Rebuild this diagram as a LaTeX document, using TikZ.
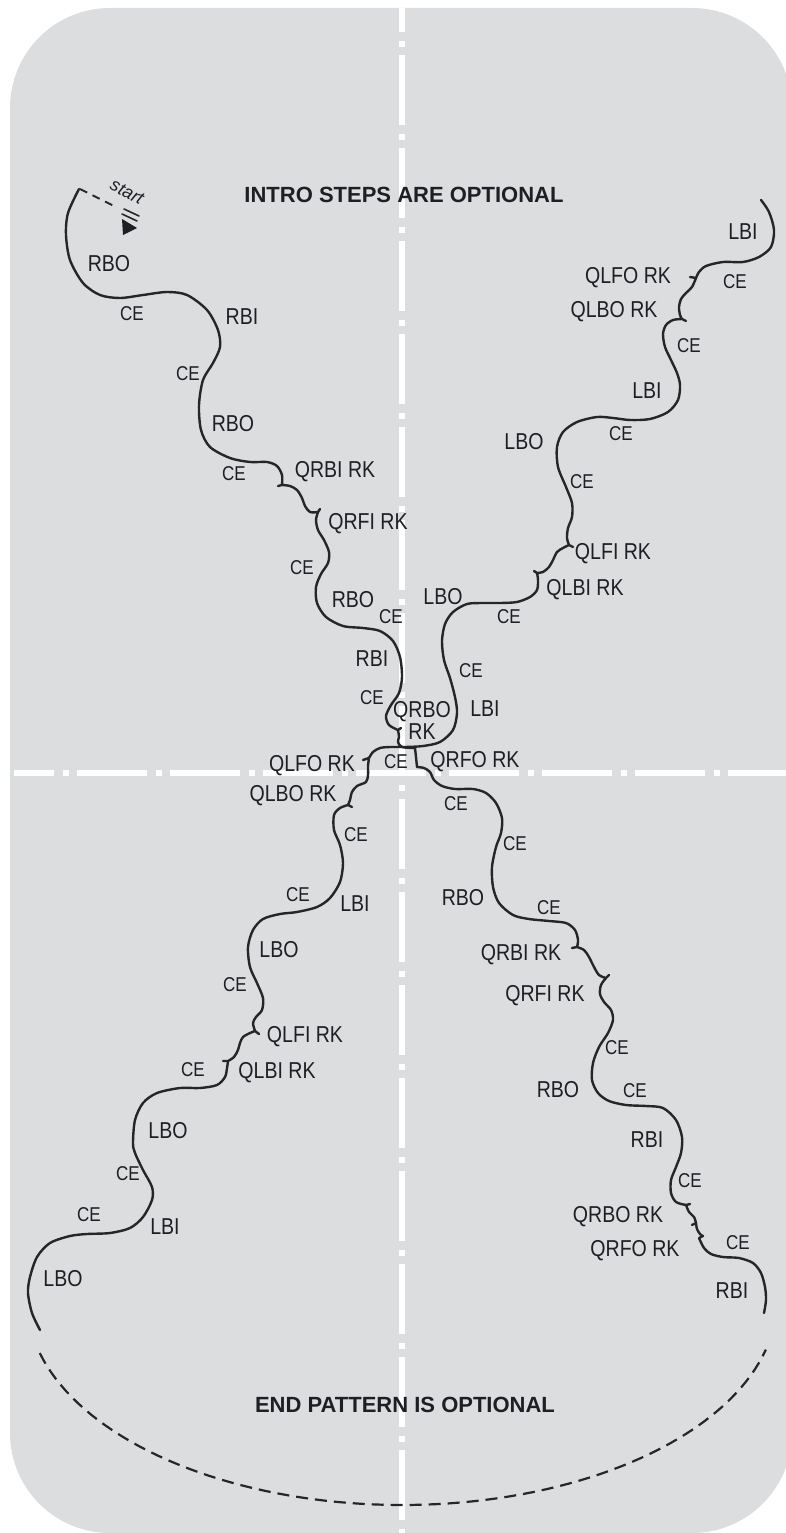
\documentclass[tikz,border=0pt]{standalone}
\usepackage{fontspec}
\setmainfont{Liberation Sans}
\newfontfamily\condfont[FakeStretch=0.85]{Liberation Sans}
\definecolor{floor}{RGB}{220,221,223}
\definecolor{ink}{RGB}{30,30,36}
\definecolor{tracegray}{RGB}{38,38,38}
\tikzset{
  lbl/.style={font=\condfont\fontsize{23}{22}\selectfont, text=ink, inner sep=0pt, text depth=0pt},
  celbl/.style={font=\condfont\fontsize{20}{22}\selectfont, text=ink, inner sep=0pt, text depth=0pt},
  heading/.style={font=\bfseries\fontsize{22}{24}\selectfont, text=ink, inner sep=0pt},
  track/.style={draw=tracegray, line width=2.4pt},
  axisline/.style={white, line width=6pt, line cap=butt, dash pattern=on 70pt off 9pt on 6pt off 8pt},
}
\begin{document}
\begin{tikzpicture}[x=1pt, y=-1pt, line join=round, line cap=round]
	%	\draw[help lines] (0,0) grid[xstep=50,ystep=50] (786,1533);
	\useasboundingbox (0,0) rectangle (786,1533);
	\fill[floor, rounded corners=100pt] (10,8) rectangle (792,1533);
	\draw[axisline, dash phase=46pt] (402,8) -- (402,1533);
	\draw[axisline, dash phase=30pt] (14,773) -- (786,773);
	% start mark
	\draw[tracegray, line width=1.8pt, line cap=butt, dash pattern=on 8pt off 6pt] (80,189) -- (116,207);
	\draw[tracegray, line width=1.6pt] (124,209) -- (139,216) (122,214) -- (137,221);
	\fill[ink] (122,219) -- (137,228) -- (123,235) -- cycle;
	\node (start) at (127,192) [rotate=-28, font=\itshape\fontsize{18}{19}\selectfont, text=ink, inner sep=0pt] {start};
	% first diagonal: upper left to lower right
	\draw[track] plot[smooth] coordinates {(79,189) (68,213) (66,235) (70,260) (83,283) (100,295) (120,298) (143,295) (167,292) (187,295) (207,310) (218,330) (220,347) (213,363) (203,380) (199,405) (201,430) (210,447) (230,458) (250,462) (267,462) (277,466) (282,475) (282,485)}
		-- (278,486) -- (282,485)
		-- plot[smooth] coordinates {(282,485) (290,486) (297,490) (302,498) (305,506) (310,512) (318,512)}
		-- (320,509) -- (318,512)
		-- plot[smooth] coordinates {(318,512) (316,520) (318,530) (324,540) (329,552) (328,563) (321,574) (316,587) (317,603) (326,617) (343,626) (363,628) (380,631) (393,641) (400,657) (402,677) (399,693) (391,705) (386,716) (389,725) (398,730)}
		-- (401,728) -- (398,730)
		-- plot[smooth] coordinates {(398,730) (399,737) (398,742) (402,747) (415,748)}
		-- plot[smooth] coordinates {(415,748) (416,757) (417,767)}
		-- plot[smooth] coordinates {(417,767) (424,768) (430,772) (434,780) (442,786) (455,789) (473,789) (486,793) (496,803) (502,818) (501,833) (496,847) (492,867) (493,887) (499,903) (513,915) (529,919) (549,921) (566,923) (575,930) (578,940) (577,947)}
		-- (572,948) -- (577,947)
		-- plot[smooth] coordinates {(577,947) (584,950) (589,957) (594,967) (599,975) (606,978)}
		-- (609,975) -- (606,978)
		-- plot[smooth] coordinates {(606,978) (601,985) (600,994) (604,1002) (611,1010) (613,1020) (608,1033) (599,1047) (593,1063) (592,1080) (598,1093) (609,1101) (626,1105) (646,1106) (663,1108) (676,1120) (682,1137) (681,1153) (676,1167) (671,1180) (671,1193) (676,1202) (686,1205)}
		-- (690,1204) -- (686,1205)
		-- plot[smooth] coordinates {(686,1205) (689,1212) (694,1217) (696,1223)}
		-- (692,1225) -- (696,1223)
		-- plot[smooth] coordinates {(696,1223) (697,1229) (700,1234) (703,1236)}
		-- (699,1238)
		-- plot[smooth] coordinates {(699,1238) (704,1248) (711,1254) (723,1257) (739,1258) (753,1263) (761,1273) (765,1287) (766,1300) (764,1313)};
	% second diagonal: upper right to lower left
	\draw[track] plot[smooth] coordinates {(761,200) (769,212) (774,230) (771,247) (759,257) (743,262) (723,262) (706,266) (699,272) (696,278)}
		-- (690,277) -- (696,278)
		-- plot[smooth] coordinates {(696,278) (692,287) (686,293) (681,299) (679,307) (680,315) (682,319)}
		-- (686,321) -- (682,319)
		-- plot[smooth] coordinates {(682,319) (673,320) (666,325) (663,334) (665,347) (671,360) (677,373) (680,385) (678,400) (668,412) (650,419) (630,420) (613,418) (597,417) (577,422) (563,432) (557,447) (558,467) (566,487) (572,503) (572,517) (568,528) (567,538) (569,545)}
		-- (573,547) -- (569,545)
		-- plot[smooth] coordinates {(569,545) (563,548) (557,552) (553,560) (549,567) (543,572) (537,573)}
		-- (534,571) -- (537,573)
		-- plot[smooth] coordinates {(537,573) (538,580) (537,590) (530,597) (517,602) (500,603) (483,603) (467,604) (453,612) (445,624) (442,641) (444,660) (450,678) (455,697) (457,713) (453,730) (440,742) (423,746) (405,747) (390,747) (380,748) (373,752) (369,758)}
		-- (363,760) -- (369,758)
		-- plot[smooth] coordinates {(369,758) (368,766) (368,775) (366,782) (357,786) (352,792) (350,800) (348,805)}
		-- (352,807) -- (348,805)
		-- plot[smooth] coordinates {(348,805) (340,808) (334,815) (334,830) (340,845) (343,863) (340,882) (330,898) (317,907) (297,912) (280,914) (263,919) (253,930) (248,947) (250,967) (257,983) (263,998) (262,1010) (256,1017) (253,1023) (255,1031)}
		-- (259,1034) -- (255,1031)
		-- plot[smooth] coordinates {(255,1031) (250,1033) (243,1037) (240,1043) (238,1050) (234,1057) (228,1061)}
		-- (223,1061) -- (228,1061)
		-- plot[smooth] coordinates {(228,1061) (227,1068) (225,1077) (217,1085) (200,1088) (180,1088) (157,1093) (143,1103) (135,1120) (133,1143) (135,1153) (143,1170) (152,1187) (152,1200) (143,1217) (130,1228) (110,1233) (87,1234) (70,1236) (50,1243) (37,1257) (30,1277) (28,1293) (32,1313) (40,1330)};
	% optional end
	\draw[tracegray, line width=2.2pt, line cap=butt, dash pattern=on 12pt off 7pt] plot[domain=165:14, samples=80] ({402+375*cos(\x)}, {1300+205*sin(\x)});
	% headings
	\node (intro) at (404,195) [heading] {INTRO STEPS ARE OPTIONAL};
	\node (endpat) at (405,1405) [heading] {END PATTERN IS OPTIONAL};
	% upper left
	\node (rbo1) at (109,263) [lbl] {RBO};
	\node (ce1) at (132,314) [celbl] {CE};
	\node (rbi1) at (242,317) [lbl] {RBI};
	\node (ce2) at (188,374) [celbl] {CE};
	\node (rbo2) at (233,423) [lbl] {RBO};
	\node (ce3) at (234,474) [celbl] {CE};
	\node (qrbi1) at (335,469) [lbl] {QRBI RK};
	\node (qrfi1) at (368,521) [lbl] {QRFI RK};
	\node (ce4) at (302,568) [celbl] {CE};
	\node (rbo3) at (353,599) [lbl] {RBO};
	\node (ce5) at (391,617) [celbl] {CE};
	\node (rbi2) at (372,659) [lbl] {RBI};
	\node (ce6) at (372,698) [celbl] {CE};
	\node (qrbo1) at (422,720) [lbl, align=center] {QRBO\\RK};
	\node (ce7) at (396,762) [celbl] {CE};
	\node (qrfo1) at (475,759) [lbl] {QRFO RK};
	% upper right
	\node (lbi1) at (743,232) [lbl] {LBI};
	\node (qlfo1) at (628,275) [lbl] {QLFO RK};
	\node (ce8) at (735,282) [celbl] {CE};
	\node (qlbo1) at (614,309) [lbl] {QLBO RK};
	\node (ce9) at (689,346) [celbl] {CE};
	\node (lbi2) at (647,391) [lbl] {LBI};
	\node (lbo1) at (524,441) [lbl] {LBO};
	\node (ce10) at (621,434) [celbl] {CE};
	\node (ce11) at (582,482) [celbl] {CE};
	\node (qlfi1) at (613,551) [lbl] {QLFI RK};
	\node (qlbi1) at (585,587) [lbl] {QLBI RK};
	\node (lbo2) at (443,596) [lbl] {LBO};
	\node (ce12) at (509,617) [celbl] {CE};
	\node (ce13) at (471,671) [celbl] {CE};
	\node (lbi3) at (485,709) [lbl] {LBI};
	% lower left
	\node (qlfo2) at (312,763) [lbl] {QLFO RK};
	\node (qlbo2) at (293,793) [lbl] {QLBO RK};
	\node (ce14) at (356,835) [celbl] {CE};
	\node (ce15) at (298,895) [celbl] {CE};
	\node (lbi4) at (355,904) [lbl] {LBI};
	\node (lbo3) at (279,949) [lbl] {LBO};
	\node (ce16) at (235,985) [celbl] {CE};
	\node (qlfi2) at (305,1034) [lbl] {QLFI RK};
	\node (qlbi2) at (277,1070) [lbl] {QLBI RK};
	\node (ce17) at (193,1070) [celbl] {CE};
	\node (lbo4) at (168,1130) [lbl] {LBO};
	\node (ce18) at (128,1174) [celbl] {CE};
	\node (ce19) at (89,1215) [celbl] {CE};
	\node (lbi5) at (165,1227) [lbl] {LBI};
	\node (lbo5) at (63,1278) [lbl] {LBO};
	% lower right
	\node (ce20) at (456,804) [celbl] {CE};
	\node (ce21) at (515,844) [celbl] {CE};
	\node (rbo4) at (463,897) [lbl] {RBO};
	\node (ce22) at (549,908) [celbl] {CE};
	\node (qrbi2) at (521,952) [lbl] {QRBI RK};
	\node (qrfi2) at (545,993) [lbl] {QRFI RK};
	\node (ce23) at (617,1048) [celbl] {CE};
	\node (rbo5) at (558,1089) [lbl] {RBO};
	\node (ce24) at (635,1091) [celbl] {CE};
	\node (rbi3) at (647,1140) [lbl] {RBI};
	\node (ce25) at (690,1181) [celbl] {CE};
	\node (qrbo2) at (618,1214) [lbl] {QRBO RK};
	\node (qrfo2) at (635,1248) [lbl] {QRFO RK};
	\node (ce26) at (738,1243) [celbl] {CE};
	\node (rbi4) at (732,1291) [lbl] {RBI};
\end{tikzpicture}
\end{document}
